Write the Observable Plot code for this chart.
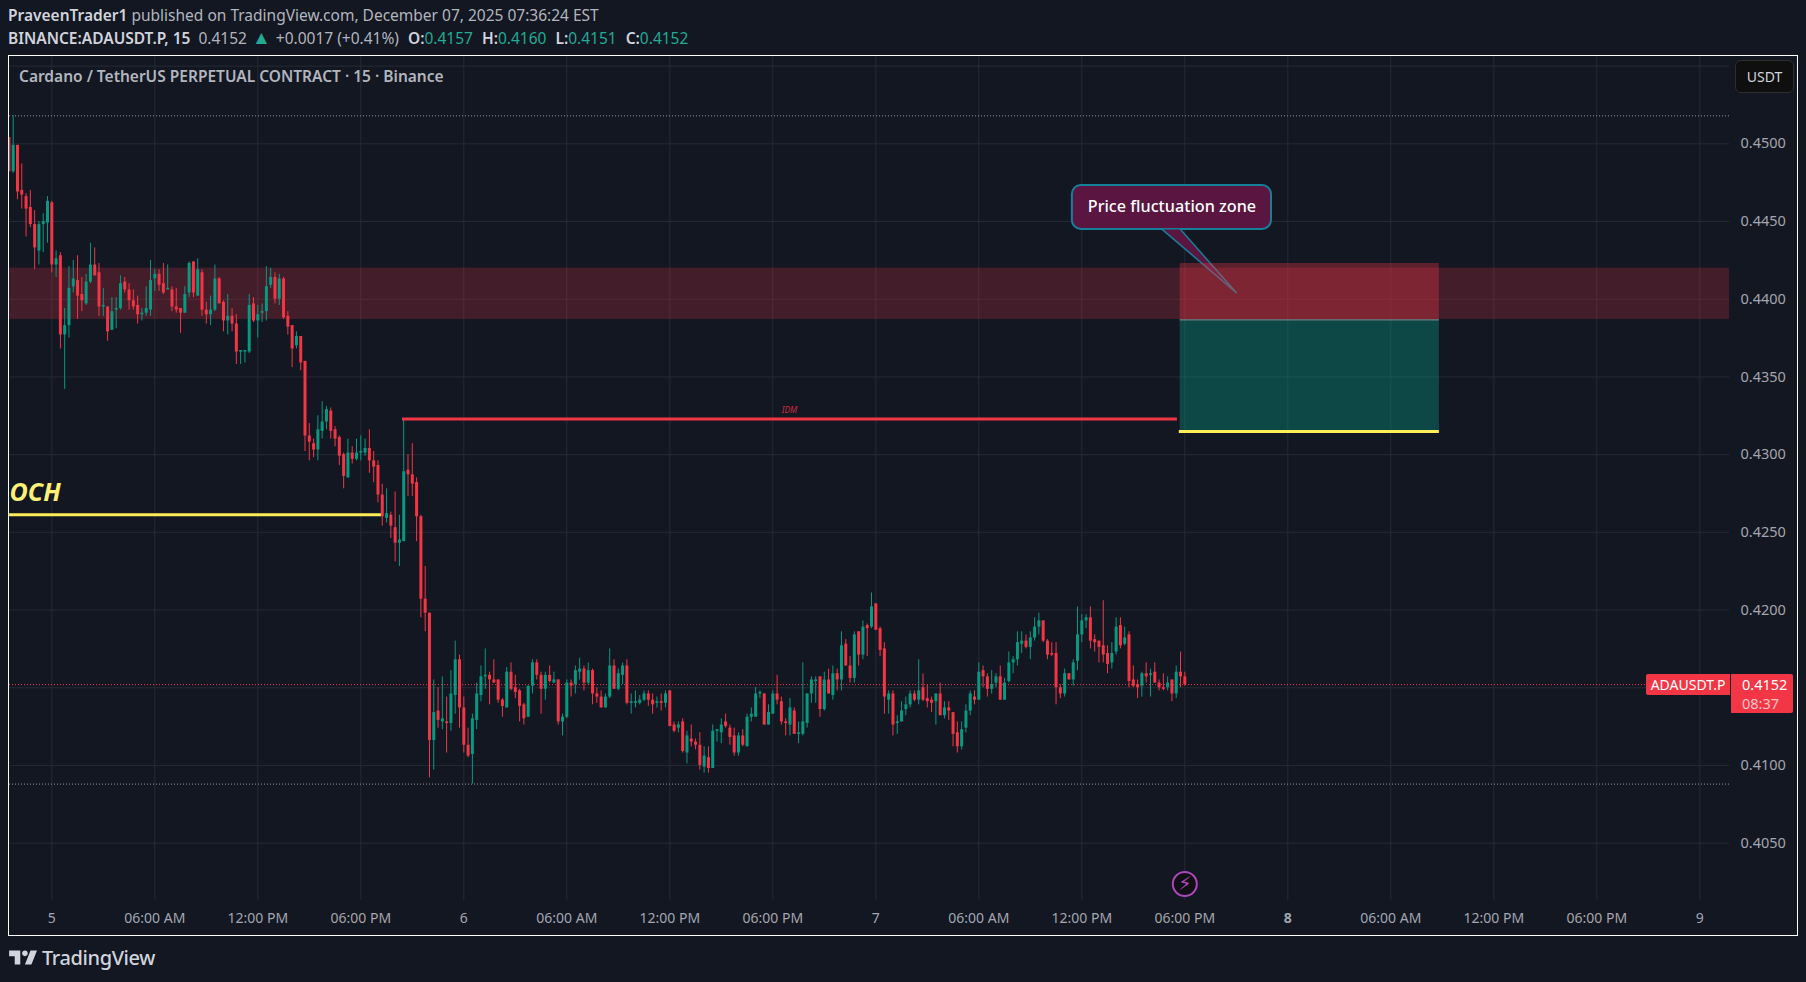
<!DOCTYPE html>
<html><head><meta charset="utf-8">
<script src="https://cdn.jsdelivr.net/npm/d3@7"></script>
<script src="https://cdn.jsdelivr.net/npm/@observablehq/plot@0.6"></script>
<style>
html,body{margin:0;padding:0;background:#131722;width:1806px;height:982px;overflow:hidden;font-family:"Noto Sans",sans-serif}
#head{position:absolute;left:8px;top:4px;color:#b2b5be;font-size:15.5px;line-height:22.5px;white-space:nowrap}
#head b{color:#d1d4dc;font-weight:600}
#head i{color:#22ab94;font-style:normal}
#head .g{margin-left:9px}
#head .tri{font-size:19px;line-height:15px;margin:0 1px}
#wrap{position:absolute;left:8px;top:55px;width:1790px;height:881px;border:1px solid #fff;box-sizing:border-box;overflow:hidden}
#wrap svg{position:absolute;left:0;top:0;display:block}
.ov{position:absolute;box-sizing:border-box;white-space:nowrap}
#title{left:10px;top:9px;color:#b2b5be;font-size:15.5px;font-weight:600}
#usdt{left:1726px;top:4px;width:59px;height:33px;background:#0f0f0f;border:1px solid #2e2e2e;border-radius:6px;color:#d1d4dc;font-size:14px;text-align:center;line-height:31px}
#sym{left:1637px;top:618px;width:84px;height:21px;background:#f23645;color:#fff;font-size:14px;line-height:21px;text-align:center;border-radius:2px 0 0 2px}
#last{left:1722px;top:618px;width:62px;height:39px;background:#f23645;color:#fff;font-size:14.5px;line-height:19px;padding:1px 0 0 11px;border-radius:0 2px 2px 0}
#last span{color:#fbc2c7;display:block}
#logo{position:absolute;left:7px;top:944px;display:flex;align-items:center;color:#d1d4dc;font-size:20px;font-weight:500;letter-spacing:-.4px}
</style></head><body>
<div id="head">
<div><b>PraveenTrader1</b> published on TradingView.com, December 07, 2025 07:36:24 EST</div>
<div><b>BINANCE:ADAUSDT.P, 15</b>&nbsp; 0.4152 <i class="tri">▲</i> +0.0017 (+0.41%)<b class="g">O:</b><i>0.4157</i><b class="g">H:</b><i>0.4160</i><b class="g">L:</b><i>0.4151</i><b class="g">C:</b><i>0.4152</i></div>
</div>
<div id="wrap">
<div class="ov" id="title" style="z-index:2">Cardano / TetherUS PERPETUAL CONTRACT · 15 · Binance</div>
<div class="ov" id="usdt" style="z-index:2">USDT</div>
<div class="ov" id="sym" style="z-index:2">ADAUSDT.P</div>
<div class="ov" id="last" style="z-index:2">0.4152<span>08:37</span></div>
</div>
<div id="logo"><svg width="34" height="26" viewBox="0 0 36 28" fill="#d1d4dc"><path d="M14 6H2v6h6v9h6V6Zm12 15h-7l6-15h7l-6 15Zm-7-9a3 3 0 1 0 0-6 3 3 0 0 0 0 6Z"/></svg><span style="margin-left:1px">TradingView</span></div>
<script>
// 15-minute candles in ticks of 0.0001 USDT
const TICK = 0.0001;
const opens = [
4504,4482,4499,4470,4466,4459,4448,4431,4448,4449,
4462,4422,4428,4377,4383,4408,4412,4403,4397,4411,
4422,4417,4395,4395,4380,4393,4394,4411,4406,4399,
4396,4390,4391,4393,4413,4416,4410,4406,4406,4395,
4394,4391,4404,4424,4402,4417,4393,4390,4393,4413,
4398,4386,4389,4384,4366,4366,4366,4397,4386,4391,
4392,4409,4414,4400,4413,4389,4383,4370,4376,4360,
4312,4307,4303,4315,4321,4328,4316,4311,4300,4285,
4301,4297,4301,4301,4304,4296,4293,4274,4259,4261,
4253,4243,4244,4290,4287,4282,4260,4207,4198,4116,
4135,4128,4128,4127,4145,4168,4137,4113,4107,4129,
4145,4157,4158,4155,4155,4142,4137,4160,4150,4148,
4139,4131,4151,4166,4158,4149,4158,4153,4155,4128,
4131,4153,4152,4160,4162,4153,4161,4146,4144,4137,
4144,4164,4149,4158,4164,4140,4140,4140,4142,4146,
4142,4140,4141,4140,4148,4126,4124,4128,4108,4117,
4115,4113,4099,4105,4098,4122,4121,4128,4124,4119,
4108,4119,4112,4131,4131,4146,4146,4126,4133,4146,
4141,4128,4126,4135,4120,4120,4127,4146,4154,4157,
4136,4155,4145,4159,4155,4178,4164,4156,4186,4171,
4190,4189,4204,4188,4175,4142,4146,4127,4128,4136,
4139,4146,4142,4150,4143,4142,4141,4146,4132,4137,
4134,4121,4112,4124,4135,4144,4142,4161,4157,4149,
4153,4157,4142,4154,4166,4168,4178,4180,4176,4182,
4189,4193,4180,4172,4172,4150,4146,4159,4155,4167,
4184,4193,4195,4181,4180,4177,4172,4166,4173,4190,
4178,4184,4155,4152,4151,4159,4158,4160,4153,4150,
4150,4155,4146,4160,4157];
const highs = [
4504,4518,4499,4487,4468,4470,4457,4450,4455,4466,
4463,4431,4430,4394,4421,4425,4428,4414,4416,4436,
4433,4423,4407,4395,4401,4401,4415,4414,4410,4406,
4402,4394,4408,4425,4419,4419,4423,4422,4408,4407,
4394,4408,4424,4424,4426,4419,4398,4402,4422,4414,
4399,4403,4394,4390,4367,4367,4403,4401,4396,4397,
4421,4420,4417,4416,4414,4392,4383,4379,4376,4360,
4320,4310,4325,4334,4331,4330,4318,4312,4301,4310,
4305,4310,4312,4310,4316,4302,4296,4281,4278,4263,
4276,4261,4323,4300,4307,4285,4261,4228,4198,4155,
4150,4157,4144,4161,4180,4171,4144,4124,4133,4153,
4164,4175,4160,4168,4155,4143,4163,4166,4158,4149,
4140,4151,4168,4168,4160,4160,4164,4160,4155,4133,
4155,4155,4164,4169,4164,4166,4162,4150,4148,4146,
4175,4168,4162,4166,4168,4146,4148,4145,4148,4148,
4146,4144,4146,4148,4148,4128,4128,4130,4122,4126,
4117,4121,4112,4112,4126,4123,4130,4133,4126,4124,
4121,4123,4133,4137,4150,4148,4146,4139,4148,4158,
4144,4130,4143,4137,4128,4166,4146,4157,4157,4157,
4160,4162,4164,4162,4186,4181,4170,4186,4186,4193,
4191,4211,4204,4189,4179,4148,4148,4132,4141,4144,
4148,4148,4168,4159,4152,4144,4146,4153,4141,4141,
4134,4128,4128,4139,4148,4148,4166,4164,4159,4161,
4159,4164,4156,4173,4170,4186,4186,4184,4186,4195,
4198,4193,4181,4179,4179,4152,4162,4159,4168,4202,
4197,4197,4202,4184,4180,4206,4177,4179,4195,4195,
4189,4186,4164,4155,4160,4166,4162,4166,4155,4159,
4157,4155,4164,4173,4160];
const lows = [
4482,4481,4464,4458,4440,4446,4419,4422,4430,4436,
4417,4414,4368,4342,4375,4404,4387,4392,4396,4410,
4415,4389,4389,4373,4380,4381,4393,4404,4393,4393,
4384,4386,4389,4389,4405,4405,4403,4406,4392,4391,
4378,4391,4401,4401,4402,4389,4384,4383,4392,4397,
4379,4377,4379,4358,4358,4359,4365,4385,4375,4385,
4386,4407,4397,4396,4387,4377,4356,4368,4354,4302,
4296,4298,4296,4310,4316,4310,4305,4293,4278,4285,
4294,4296,4296,4299,4288,4282,4269,4254,4256,4246,
4231,4228,4244,4273,4273,4244,4195,4186,4092,4097,
4124,4123,4108,4122,4133,4124,4108,4105,4088,4123,
4141,4149,4139,4153,4140,4131,4137,4148,4143,4128,
4126,4131,4146,4155,4133,4142,4153,4153,4126,4119,
4130,4144,4146,4155,4148,4152,4139,4140,4137,4137,
4143,4149,4148,4152,4139,4133,4137,4139,4141,4138,
4133,4137,4135,4137,4125,4121,4121,4108,4101,4112,
4110,4097,4095,4095,4098,4115,4114,4124,4113,4106,
4106,4112,4112,4128,4131,4143,4126,4126,4133,4139,
4126,4119,4119,4120,4114,4119,4124,4140,4140,4131,
4135,4146,4142,4148,4148,4164,4153,4153,4164,4168,
4170,4188,4187,4170,4133,4133,4119,4120,4128,4132,
4137,4141,4139,4141,4137,4134,4126,4132,4130,4129,
4112,4108,4110,4121,4132,4139,4142,4150,4144,4146,
4150,4142,4142,4153,4159,4164,4172,4175,4168,4180,
4184,4179,4168,4170,4139,4143,4144,4155,4151,4161,
4179,4188,4175,4173,4166,4166,4159,4162,4171,4175,
4177,4150,4150,4143,4144,4153,4144,4153,4148,4148,
4148,4141,4143,4150,4151];
const closes = [
4482,4499,4469,4467,4458,4448,4433,4448,4450,4463,
4422,4426,4377,4383,4407,4413,4402,4399,4411,4422,
4415,4395,4396,4379,4392,4394,4410,4406,4399,4395,
4390,4391,4394,4412,4416,4409,4404,4407,4395,4393,
4391,4403,4423,4404,4419,4393,4390,4393,4413,4397,
4386,4389,4384,4366,4367,4367,4396,4386,4390,4392,
4408,4414,4400,4413,4388,4382,4368,4376,4359,4312,
4308,4303,4316,4321,4329,4315,4310,4299,4286,4301,
4297,4301,4302,4304,4296,4292,4274,4260,4262,4254,
4243,4245,4289,4287,4281,4260,4207,4198,4116,4134,
4129,4130,4127,4146,4168,4137,4113,4106,4130,4146,
4157,4158,4155,4153,4142,4138,4160,4149,4147,4138,
4130,4151,4166,4158,4149,4158,4154,4155,4128,4131,
4153,4151,4161,4162,4153,4161,4146,4144,4137,4144,
4164,4149,4159,4164,4140,4141,4141,4142,4146,4142,
4139,4141,4140,4146,4125,4122,4126,4109,4119,4115,
4113,4100,4106,4098,4122,4123,4126,4125,4118,4108,
4119,4113,4131,4133,4146,4147,4126,4134,4146,4142,
4128,4127,4137,4120,4121,4128,4146,4155,4155,4136,
4155,4146,4159,4155,4177,4164,4156,4184,4171,4189,
4188,4202,4187,4174,4144,4146,4126,4128,4135,4139,
4146,4142,4148,4142,4141,4140,4146,4132,4137,4135,
4120,4112,4123,4135,4146,4142,4160,4157,4149,4152,
4157,4142,4153,4166,4168,4179,4180,4176,4182,4189,
4193,4180,4171,4171,4150,4146,4159,4155,4166,4184,
4193,4195,4180,4179,4176,4171,4165,4172,4189,4177,
4182,4154,4151,4150,4159,4157,4159,4153,4150,4149,
4153,4146,4160,4157,4152];

const xTickHours = [0,6,12,18,24,30,36,42,48,54,60,66,72,78,84,90,96];
const xTickLabels = ["5","06:00 AM","12:00 PM","06:00 PM","6","06:00 AM","12:00 PM","06:00 PM","7","06:00 AM","12:00 PM","06:00 PM","8","06:00 AM","12:00 PM","06:00 PM","9"];
const boldTickLabel = "8";
const yAxisTicks = [0.45,0.445,0.44,0.435,0.43,0.425,0.42,0.415,0.41,0.405];
const yGridExtra = [0.455];
const sessionHigh = 0.4518, sessionLow = 0.4088, lastPrice = 0.4152;
const zoneHigh = 0.4420, zoneLow = 0.4387;
const boxHours = [65.73, 80.83], stopPrice = 0.4423, entryPrice = 0.43867, targetPrice = 0.43149;
const idmPrice = 0.4323, idmHours = [20.43, 65.57], idmLabelAt = [42.97, 0.43285];
const chochPrice = 0.42613, chochHours = [-2.46, 19.2], chochLabelAt = [-2.46, 0.4275];
const noteHours = [59.45, 71.05], notePrices = [0.44449, 0.44732], noteLabelAt = [65.25, 0.44593];
const noteTailHours = [64.68, 68.99, 65.75], noteTailPrices = [0.44449, 0.44043, 0.44449];
const boltAt = [66, 0.40237];

const red = "#f23645", green = "#089981", gridColor = "#252a35", yellow = "#ffee58";
const zeroHour = Date.UTC(2025, 11, 5);
const at = h => new Date(zeroHour + h * 3600e3);
const bars = opens.map((o, i) => ({
  t: at((i - 10) * 0.25), open: o * TICK, high: highs[i] * TICK, low: lows[i] * TICK, close: closes[i] * TICK
}));
const up = bars.filter(d => d.close >= d.open), down = bars.filter(d => d.close < d.open);
const xTicks = xTickHours.map(at);
const labelOf = new Map(xTicks.map((d, i) => [+d, xTickLabels[i]]));
const plainTicks = xTicks.filter(d => labelOf.get(+d) !== boldTickLabel);
const boldTicks = xTicks.filter(d => labelOf.get(+d) === boldTickLabel);
const seg = (a, b, p) => [{a: at(a), b: at(b), p}];
const box = (a, b, p1, p2) => [{a: at(a), b: at(b), p1, p2}];
const tail = noteTailHours.map((h, i) => ({t: at(h), p: noteTailPrices[i]}));
const axisFont = {fontSize: 14, color: "#a3a6af", tickSize: 0, label: null};

const chart = Plot.plot({
  width: 1788, height: 879,
  marginLeft: 0, marginRight: 68, marginTop: 0, marginBottom: 35,
  style: {background: "transparent", fontFamily: '"Noto Sans",sans-serif', overflow: "hidden"},
  x: {type: "utc", domain: [at(-2.464), at(97.73)]},
  y: {domain: [0.40131, 0.455618]},
  marks: [
    Plot.gridX(xTicks, {stroke: gridColor, strokeOpacity: 1}),
    Plot.gridY([...yAxisTicks, ...yGridExtra], {stroke: gridColor, strokeOpacity: 1}),
    Plot.rect(box(-2.464, 97.73, zoneLow, zoneHigh), {x1: "a", x2: "b", y1: "p1", y2: "p2", fill: red, fillOpacity: 0.22}),
    Plot.ruleY([sessionHigh, sessionLow], {stroke: "#9598a1", strokeDasharray: "1,2", strokeWidth: 1}),
    Plot.ruleY([lastPrice], {stroke: red, strokeDasharray: "1,2", strokeWidth: 1}),
    Plot.ruleX(down, {x: "t", y1: "low", y2: "high", stroke: red, strokeWidth: 1, strokeOpacity: 1, clip: true}),
    Plot.ruleX(up, {x: "t", y1: "low", y2: "high", stroke: green, strokeWidth: 1, strokeOpacity: 1, clip: true}),
    Plot.ruleX(down, {x: "t", y1: "open", y2: "close", stroke: red, strokeWidth: 3, strokeOpacity: 1, clip: true}),
    Plot.ruleX(up, {x: "t", y1: "open", y2: "close", stroke: green, strokeWidth: 3, strokeOpacity: 1, clip: true}),
    // callout
    Plot.rect(box(noteHours[0], noteHours[1], notePrices[0], notePrices[1]), {x1: "a", x2: "b", y1: "p1", y2: "p2", rx: 9, fill: "#5a1540", stroke: "#16809a", strokeWidth: 2}),
    Plot.line(tail, {x: "t", y: "p", fill: "#5a1540", stroke: "none", fillOpacity: 1}),
    Plot.line(tail.slice(0, 2), {x: "t", y: "p", stroke: "#16809a", strokeWidth: 1.5}),
    Plot.line(tail.slice(1), {x: "t", y: "p", stroke: "#16809a", strokeWidth: 1.5}),
    Plot.text([noteLabelAt], {x: d => at(d[0]), y: d => d[1], text: () => "Price fluctuation zone", fill: "#fff", fontSize: 16.2, fontWeight: 500}),
    // position boxes
    Plot.rect(box(boxHours[0], boxHours[1], entryPrice, stopPrice), {x1: "a", x2: "b", y1: "p1", y2: "p2", fill: red, fillOpacity: 0.33}),
    Plot.rect(box(boxHours[0], boxHours[1], targetPrice, entryPrice), {x1: "a", x2: "b", y1: "p1", y2: "p2", fill: green, fillOpacity: 0.38}),
    Plot.ruleY(seg(boxHours[0], boxHours[1], entryPrice), {y: "p", x1: "a", x2: "b", stroke: "#8a8f93", strokeWidth: 1}),
    Plot.ruleY(seg(boxHours[0] - 0.05, boxHours[1], targetPrice), {y: "p", x1: "a", x2: "b", stroke: yellow, strokeWidth: 3}),
    // drawn levels
    Plot.ruleY(seg(idmHours[0], idmHours[1], idmPrice), {y: "p", x1: "a", x2: "b", stroke: red, strokeWidth: 3}),
    Plot.text([idmLabelAt], {x: d => at(d[0]), y: d => d[1], text: () => "IDM", fill: "#c92d3e", fontSize: 8.5, fontStyle: "italic"}),
    Plot.ruleY(seg(chochHours[0], chochHours[1], chochPrice), {y: "p", x1: "a", x2: "b", stroke: yellow, strokeWidth: 3}),
    Plot.text([chochLabelAt], {x: d => at(d[0]), y: d => d[1], text: () => "OCH", fill: "#fff176", fontSize: 25, fontWeight: 700, fontStyle: "italic", textAnchor: "start"}),
    // event marker
    Plot.dot([boltAt], {x: d => at(d[0]), y: d => d[1], r: 12, fill: "#0f0f14", stroke: "#ab47bc", strokeWidth: 2}),
    Plot.text([boltAt], {x: d => at(d[0]), y: d => d[1], text: () => "\u26A1\uFE0E", fill: "#ab47bc", fontSize: 19, fontFamily: "DejaVu Sans"}),
    // axes
    Plot.axisY(yAxisTicks, {...axisFont, fontSize: 14.5, anchor: "right", tickPadding: 11, tickFormat: d3.format(".4f")}),
    Plot.axisX(plainTicks, {...axisFont, anchor: "bottom", tickPadding: 13, tickFormat: d => labelOf.get(+d)}),
    Plot.axisX(boldTicks, {...axisFont, anchor: "bottom", tickPadding: 13, fontWeight: 700, tickFormat: d => labelOf.get(+d)})
  ]
});
document.getElementById("wrap").prepend(chart);
</script>
</body></html>
